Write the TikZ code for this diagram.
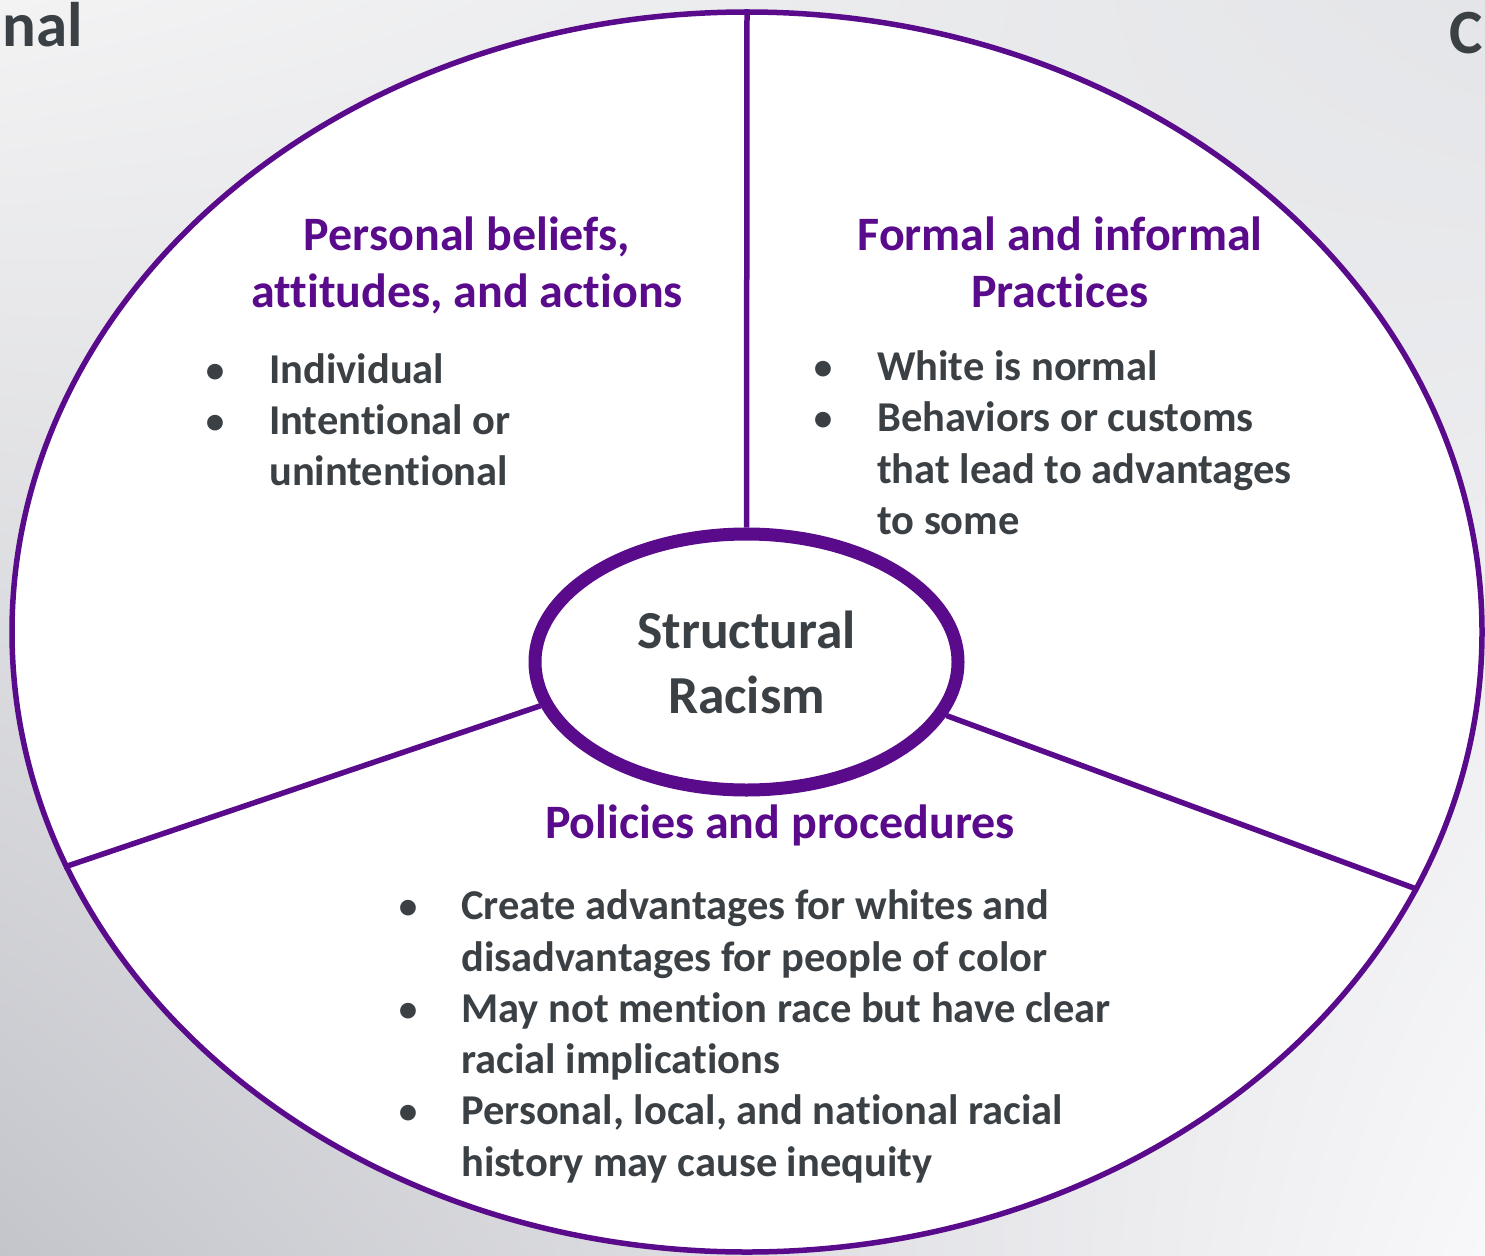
\documentclass[tikz,border=0pt]{standalone}
\usepackage{fontspec}
\setmainfont{Carlito}[Ligatures=NoCommon]
\usetikzlibrary{shapes.geometric,shadings}
\definecolor{purp}{HTML}{5A0B8C}
\definecolor{txt}{HTML}{3B4045}
\definecolor{bgul}{HTML}{F3F3F4}
\definecolor{bgur}{HTML}{E4E5E8}
\definecolor{bgll}{HTML}{C4C5CB}
\definecolor{bglr}{HTML}{F8F8FA}
\begin{document}
\begin{tikzpicture}[x=1pt,y=-1pt,
 title/.style={text=purp,font=\fontsize{48}{57}\selectfont\bfseries,inner sep=0,anchor=base},
 item/.style={text=txt,font=\fontsize{42.5}{51}\selectfont\bfseries,inner sep=0,anchor=base west},
 bul/.style={text=txt,font=\fontsize{37}{51}\selectfont\bfseries,inner sep=0,anchor=base},
 corner/.style={text=txt,font=\fontsize{63}{70}\selectfont\bfseries,inner sep=0},
 rim/.style={draw=purp,line width=5.5pt}]
\useasboundingbox (0,0) rectangle (1485,1255);
\clip (0,0) rectangle (1485,1255);
\shade[upper left=bgul,upper right=bgur,lower left=bgll,lower right=bglr]
  (0,0) rectangle (1485,1255);
\node[corner,anchor=base east] (cl) at (83,47) {nal};
\node[corner,anchor=base west] (cr) at (1449,53) {C};

\node[ellipse,rim,fill=white,minimum width=1470pt,minimum height=1240pt,inner sep=0] (outer) at (747,632) {};
\node[ellipse,draw=purp,line width=13pt,fill=white,minimum width=423pt,minimum height=256pt,inner sep=0,
      text=txt,font=\fontsize{53.5}{65}\selectfont\bfseries,align=center] (inner) at (746.5,662) {Structural\\Racism};
\draw[rim] (inner.north) -- (outer.north);
\draw[rim] (inner.192.6) -- (outer.199.4);
\draw[rim] (inner.345.9) -- (outer.339);

% top left
\node[title] (t1a) at (467,250) {Personal beliefs,};
\node[title] (t1b) at (467,307) {attitudes, and actions};
\node[bul] (b1) at (215,382) {•};
\node[item] (l1) at (269,383) {Individual};
\node[bul] (b2) at (215,433) {•};
\node[item] (l2) at (269,434) {Intentional or};
\node[item] (l3) at (269,485) {unintentional};

% top right
\node[title] (t2a) at (1060,250) {Formal and informal};
\node[title] (t2b) at (1060,307) {Practices};
\node[bul] (b3) at (823,379) {•};
\node[item] (r1) at (877,380) {White is normal};
\node[bul] (b4) at (823,430) {•};
\node[item] (r2) at (877,431) {Behaviors or customs};
\node[item] (r3) at (877,483) {that lead to advantages};
\node[item] (r4) at (877,534) {to some};

% bottom
\node[title] (t3) at (780,838) {Policies and procedures};
\node[bul] (b5) at (408,918) {•};
\node[item] (p1) at (461,919) {Create advantages for whites and};
\node[item] (p2) at (461,971) {disadvantages for people of color};
\node[bul] (b6) at (408,1021) {•};
\node[item] (p3) at (461,1022) {May not mention race but have clear};
\node[item] (p4) at (461,1073) {racial implications};
\node[bul] (b7) at (408,1123) {•};
\node[item] (p5) at (461,1124) {Personal, local, and national racial};
\node[item] (p6) at (461,1176) {history may cause inequity};
\end{tikzpicture}
\end{document}
